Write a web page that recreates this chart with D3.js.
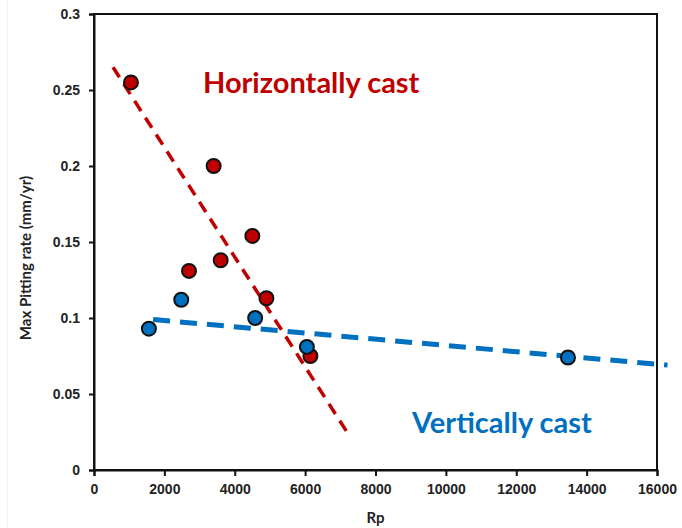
<!DOCTYPE html>
<html>
<head>
<meta charset="utf-8">
<script src="https://cdn.jsdelivr.net/npm/d3@7"></script>
<style>
    body { margin: 0; background: #fff; }
    svg { display: block; font-family: Lato, "Open Sans", sans-serif; }
</style>
</head>
<body>
<div id="chart"></div>
<script>
    // values
    var horizRp = [1050, 3400, 2700, 3600, 4500, 4900, 6150];
    var horizRate = [0.255, 0.2, 0.131, 0.138, 0.154, 0.113, 0.075];
    var vertRp = [1560, 2480, 4580, 6050, 13470];
    var vertRate = [0.093, 0.112, 0.1, 0.081, 0.074];

    // trend lines (endpoints as drawn)
    var horizTrendRp = [540, 7190];
    var horizTrendRate = [0.265, 0.025];
    var vertTrendRp = [1680, 16300];
    var vertTrendRate = [0.099, 0.069];

    var xTicks = [0, 2000, 4000, 6000, 8000, 10000, 12000, 14000, 16000];
    var yTicks = [0, 0.05, 0.1, 0.15, 0.2, 0.25, 0.3];

    var width = 682, height = 528;
    var margin = {top: 14, right: 25, bottom: 58, left: 94};

    var svg = d3.select('#chart').append('svg')
        .attr('width', width)
        .attr('height', height);

    // faint picture edge on the left
    svg.append('line')
        .attr('x1', 7.5).attr('x2', 7.5)
        .attr('y1', 0).attr('y2', height)
        .attr('stroke', '#f0f0f0');

    var x = d3.scaleLinear().domain([0, 16000]).range([margin.left, width - margin.right]);
    var y = d3.scaleLinear().domain([0, 0.3]).range([height - margin.bottom, margin.top]);

    var red = '#c00000', blue = '#0070c0';

    // frame
    svg.append('rect')
        .attr('x', x(0)).attr('y', y(0.3))
        .attr('width', x(16000) - x(0))
        .attr('height', y(0) - y(0.3))
        .attr('fill', 'none')
        .attr('stroke', '#111')
        .attr('stroke-width', 2);

    var xAxis = svg.append('g')
        .attr('transform', 'translate(0,' + y(0) + ')')
        .call(d3.axisBottom(x).tickValues(xTicks).tickSize(6).tickPadding(8).tickFormat(d3.format('d')));
    var yAxis = svg.append('g')
        .attr('transform', 'translate(' + x(0) + ',0)')
        .call(d3.axisLeft(y).tickValues(yTicks).tickSize(5).tickPadding(9).tickFormat(function(d) { return String(+d.toFixed(2)); }));

    [xAxis, yAxis].forEach(function(g) {
        g.select('.domain').attr('stroke', '#111').attr('stroke-width', 2);
        g.selectAll('.tick line').attr('stroke', '#111').attr('stroke-width', 2);
        g.selectAll('.tick text')
            .attr('fill', '#222')
            .style('font-size', '14px')
            .style('font-weight', 'bold');
    });

    // axis titles
    svg.append('text')
        .attr('x', (x(0) + x(16000)) / 2)
        .attr('y', 523)
        .attr('text-anchor', 'middle')
        .style('font-size', '15px')
        .style('font-weight', 'bold')
        .attr('fill', '#222')
        .text('Rp');
    svg.append('text')
        .attr('transform', 'translate(31,258) rotate(-90)')
        .attr('text-anchor', 'middle')
        .style('font-size', '15px')
        .style('font-weight', 'bold')
        .attr('fill', '#222')
        .text('Max Pitting rate (mm/yr)');

    var line = d3.line()
        .x(function(d) { return x(d[0]); })
        .y(function(d) { return y(d[1]); });

    // trend lines
    svg.append('path')
        .datum(d3.zip(vertTrendRp, vertTrendRate))
        .attr('d', line)
        .attr('fill', 'none')
        .attr('stroke', blue)
        .attr('stroke-width', 5)
        .attr('stroke-dasharray', '17,10');
    svg.append('path')
        .datum(d3.zip(horizTrendRp, horizTrendRate))
        .attr('d', line)
        .attr('fill', 'none')
        .attr('stroke', red)
        .attr('stroke-width', 3.5)
        .attr('stroke-dasharray', '12,8');

    // points
    svg.append('g').selectAll('circle')
        .data(d3.zip(horizRp, horizRate))
        .enter().append('circle')
        .attr('cx', function(d) { return x(d[0]); })
        .attr('cy', function(d) { return y(d[1]); })
        .attr('r', 7)
        .attr('fill', red)
        .attr('stroke', '#111')
        .attr('stroke-width', 2);
    svg.append('g').selectAll('circle')
        .data(d3.zip(vertRp, vertRate))
        .enter().append('circle')
        .attr('cx', function(d) { return x(d[0]); })
        .attr('cy', function(d) { return y(d[1]); })
        .attr('r', 7)
        .attr('fill', blue)
        .attr('stroke', '#111')
        .attr('stroke-width', 2);

    // labels
    svg.append('text')
        .attr('x', 203).attr('y', 93)
        .style('font-size', '29px')
        .style('font-weight', 'bold')
        .attr('fill', red)
        .text('Horizontally cast');
    svg.append('text')
        .attr('x', 412).attr('y', 433)
        .style('font-size', '29px')
        .style('font-weight', 'bold')
        .attr('fill', blue)
        .text('Vertically cast');
</script>
</body>
</html>
